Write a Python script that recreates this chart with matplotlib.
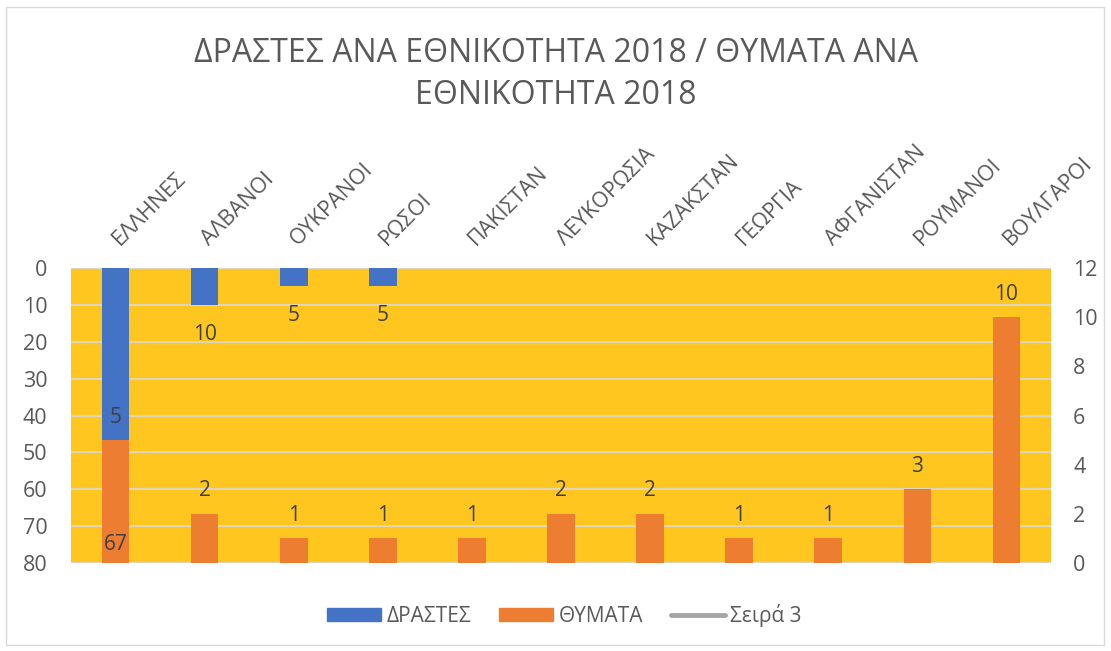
import matplotlib.pyplot as plt
import matplotlib.transforms as mtransforms
from matplotlib.patches import Rectangle
from matplotlib.lines import Line2D
from matplotlib.patches import Patch

plt.rcParams['font.family'] = ['Open Sans', 'DejaVu Sans']

# dedomena
categories = ['ΕΛΛΗΝΕΣ', 'ΑΛΒΑΝΟΙ', 'ΟΥΚΡΑΝΟΙ', 'ΡΩΣΟΙ', 'ΠΑΚΙΣΤΑΝ', 'ΛΕΥΚΟΡΩΣΙΑ',
              'ΚΑΖΑΚΣΤΑΝ', 'ΓΕΩΡΓΙΑ', 'ΑΦΓΑΝΙΣΤΑΝ', 'ΡΟΥΜΑΝΟΙ', 'ΒΟΥΛΓΑΡΟΙ']
drastes = [67, 10, 5, 5, 0, 0, 0, 0, 0, 0, 0]
thymata = [5, 2, 1, 1, 1, 2, 2, 1, 1, 3, 10]
left_ticks = [0, 10, 20, 30, 40, 50, 60, 70, 80]
right_ticks = [0, 2, 4, 6, 8, 10, 12]

blue = '#4472C4'
orange = '#ED7D31'
gold = '#FFC61F'
txt = '#595959'

fig = plt.figure(figsize=(11.11, 6.51), dpi=100)
fig.patches.append(Rectangle((0.005, 0.009), 0.989, 0.98, transform=fig.transFigure,
                             fill=False, edgecolor='#D9D9D9', lw=1))

ax1 = fig.add_axes([0.0639, 0.1352, 0.8821, 0.4531])
ax1.set_facecolor(gold)
x = list(range(len(categories)))

ax1.bar(x, drastes, width=0.31, color=blue, zorder=2)
ax1.set_ylim(80, 0)
ax1.set_xlim(-0.5, len(categories) - 0.5)
ax1.set_yticks(left_ticks)
ax1.grid(axis='y', color='#D9D9D9', lw=1.2, zorder=1)
ax1.set_axisbelow(True)

ax2 = ax1.twinx()
ax2.bar(x, thymata, width=0.31, color=orange, zorder=3)
ax2.set_ylim(0, 12)
ax2.set_yticks(right_ticks)
for i, v in enumerate(thymata):
    ax2.annotate(str(v), (i, v), xytext=(0, 16.5), textcoords='offset points',
                 ha='center', va='center', fontsize=15, color='#404040')
# etiketes drastes pano apo ta portokali
for i, v in enumerate(drastes):
    if v > 0:
        ax2.annotate(str(v), (i, v), xycoords=ax1.transData, xytext=(0, -21),
                     textcoords='offset points', ha='center', va='center',
                     fontsize=15, color='#404040', zorder=5)

for a in (ax1, ax2):
    for s in a.spines.values():
        s.set_visible(False)
    a.tick_params(axis='y', length=0, labelsize=15.5, colors=txt)
ax1.tick_params(axis='y', pad=17)
ax2.tick_params(axis='y', pad=16)

ax1.xaxis.tick_top()
ax1.set_xticks(x)
ax1.set_xticklabels(categories, rotation=45, ha='left', va='bottom',
                    rotation_mode='anchor', fontsize=15.5, color=txt)
ax1.tick_params(axis='x', length=0, pad=13)
shift = mtransforms.ScaledTranslation(8 / 100, 0, fig.dpi_scale_trans)
for lbl in ax1.get_xticklabels():
    lbl.set_transform(lbl.get_transform() + shift)

fig.text(0.5, 0.885, 'ΔΡΑΣΤΕΣ ΑΝΑ ΕΘΝΙΚΟΤΗΤΑ 2018 / ΘΥΜΑΤΑ ΑΝΑ\nΕΘΝΙΚΟΤΗΤΑ 2018',
         ha='center', va='center', fontsize=23, color=txt, linespacing=1.35)

handles = [Patch(color=blue, label='ΔΡΑΣΤΕΣ'),
           Patch(color=orange, label='ΘΥΜΑΤΑ'),
           Line2D([], [], color='#A5A5A5', lw=3.5, solid_capstyle='round', label='Σειρά 3')]
leg = fig.legend(handles=handles, loc='center', bbox_to_anchor=(0.508, 0.055), ncol=3,
                 frameon=False, fontsize=15, handlelength=2.6, handleheight=0.6,
                 columnspacing=1.35, handletextpad=0.25)
for t in leg.get_texts():
    t.set_color(txt)

fig.savefig('out.png', dpi=100)
